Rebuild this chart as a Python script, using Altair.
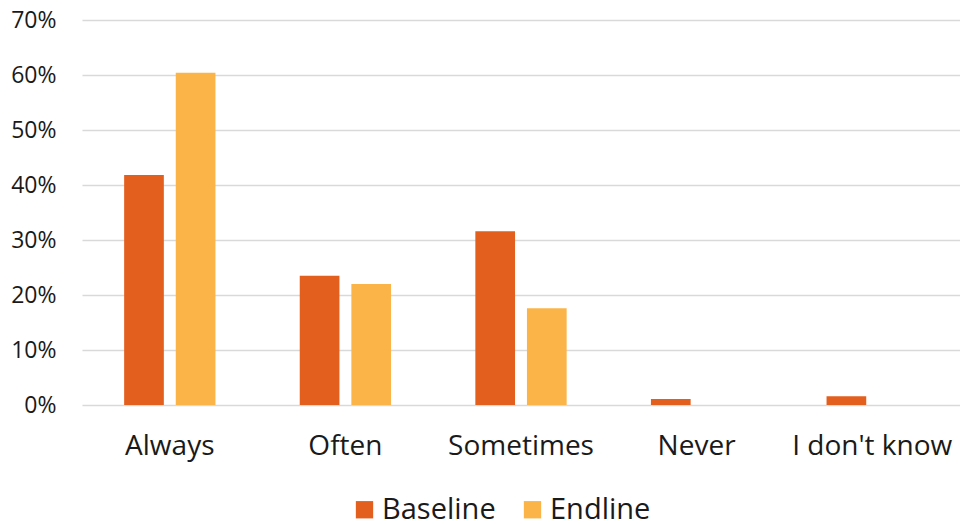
import altair as alt
import pandas as pd

categories = ["Always", "Often", "Sometimes", "Never", "I don't know"]
baseline = [0.418, 0.235, 0.316, 0.011, 0.016]
endline = [0.604, 0.220, 0.176, 0.0, 0.0]
series = ["Baseline", "Endline"]
colors = ["#E35F1E", "#FBB448"]
y_ticks = [0, 0.1, 0.2, 0.3, 0.4, 0.5, 0.6, 0.7]

rows = []
for c, b, e in zip(categories, baseline, endline):
    rows.append({"category": c, "series": "Baseline", "value": b})
    rows.append({"category": c, "series": "Endline", "value": e})
df = pd.DataFrame(rows)

FONT = "Open Sans"

chart = alt.Chart(df).mark_bar().encode(
    x=alt.X("category:N", sort=categories, title=None,
            scale=alt.Scale(paddingInner=0.48, paddingOuter=0.24),
            axis=alt.Axis(labelAngle=0, ticks=False, domain=False, grid=False,
                          labelFontSize=28, labelPadding=27, labelColor="#1a1a1a",
                          labelFont=FONT)),
    xOffset=alt.XOffset("series:N", sort=series,
                        scale=alt.Scale(paddingInner=0.231, paddingOuter=0)),
    y=alt.Y("value:Q", title=None,
            scale=alt.Scale(domain=[0, 0.7], nice=False),
            axis=alt.Axis(values=y_ticks, format=".0%", ticks=False, domain=False,
                          labelFontSize=23, labelPadding=26, labelColor="#1a1a1a",
                          labelFont=FONT, gridColor="#d9d9d9", gridWidth=1.5)),
    color=alt.Color("series:N", sort=series,
                    scale=alt.Scale(domain=series, range=colors),
                    legend=alt.Legend(title=None, orient="none", direction="horizontal",
                                      legendX=268, legendY=475,
                                      symbolType="square", symbolSize=300,
                                      symbolStrokeWidth=0,
                                      labelFontSize=29, labelFont=FONT,
                                      labelColor="#1a1a1a", labelOffset=3,
                                      columnPadding=22)),
).properties(
    width=878, height=385,
    padding={"left": 2, "top": 1, "right": 0, "bottom": 4},
).configure_view(stroke=None)

chart.save("out.html", embed_options={"renderer": "svg", "actions": False})
